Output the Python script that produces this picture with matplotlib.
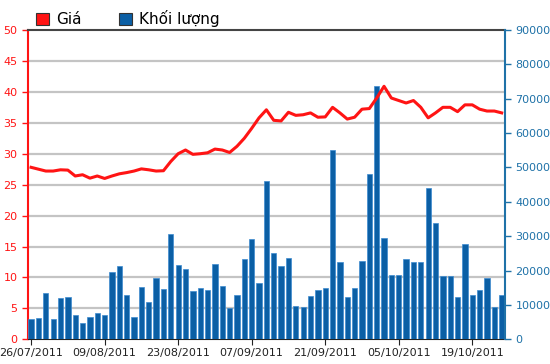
import matplotlib
matplotlib.use('Agg')
import matplotlib.pyplot as plt
from matplotlib.patches import Rectangle
import numpy as np

# Du lieu (doc tu bieu do)
nhan_ngay = ['26/07/2011', '09/08/2011', '23/08/2011', '07/09/2011',
             '21/09/2011', '05/10/2011', '19/10/2011']
vi_tri_nhan = [0, 10, 20, 30, 40, 50, 60]

gia = [27.8, 27.5, 27.2, 27.2, 27.4, 27.35, 26.4, 26.6, 26.05, 26.4,
       26.0, 26.4, 26.75, 26.95, 27.2, 27.55, 27.4, 27.2, 27.25, 28.75,
       30.0, 30.6, 29.9, 30.0, 30.15, 30.75, 30.6, 30.2, 31.2, 32.5,
       34.1, 35.8, 37.1, 35.4, 35.3, 36.7, 36.2, 36.3, 36.6, 35.9,
       35.95, 37.5, 36.6, 35.6, 35.9, 37.2, 37.3, 39.0, 40.9, 39.0,
       38.6, 38.2, 38.6, 37.5, 35.8, 36.6, 37.5, 37.5, 36.8, 37.9,
       37.9, 37.2, 36.9, 36.9, 36.6]

khoi_luong = [5800, 6200, 13500, 5800, 12000, 12400, 7000, 4700, 6600, 7700,
              7000, 19500, 21200, 13000, 6600, 15200, 10900, 17800, 14500, 30600,
              21700, 20600, 14100, 14800, 14400, 22000, 15400, 9100, 13000, 23400,
              29100, 16300, 46000, 25200, 21200, 23800, 9700, 9400, 12600, 14400,
              14800, 55000, 22400, 12400, 14800, 22800, 48100, 73800, 29500, 18700,
              18700, 23400, 22400, 22400, 43900, 33800, 18300, 18300, 12400, 27700,
              13000, 14200, 17700, 9400, 13000]

mau_gia = '#ff1414'
mau_kl = '#0b5fa5'
mau_truc_kl = '#1f72a8'

x = np.arange(len(gia))

fig = plt.figure(figsize=(5.5, 3.64), dpi=100)
ax = fig.add_axes([28 / 550, (364 - 339.3) / 364, 477 / 550, 309.3 / 364])
ax.set_xlim(-0.42, 64.45)
ax.set_ylim(0, 50)
ax.set_yticks(np.arange(0, 51, 5))
for v in np.arange(5, 50, 5):
    ax.axhline(v, color='#c4c4c4', lw=1.6, zorder=0)
ax.tick_params(axis='y', colors=mau_gia, labelsize=8, length=4, width=1)
ax.spines['left'].set_color(mau_gia)
ax.spines['left'].set_linewidth(1.5)
ax.spines['top'].set_color('#444444')
ax.spines['top'].set_linewidth(1.5)
ax.spines['bottom'].set_color('#222222')
ax.spines['right'].set_visible(False)
ax.set_xticks(vi_tri_nhan)
ax.set_xticklabels(nhan_ngay)
ax.tick_params(axis='x', colors='#222222', labelsize=8, length=4, pad=2)

# cot khoi luong
axv = ax.twinx()
axv.bar(x, khoi_luong, width=0.72, color=mau_kl, edgecolor='#3d8bd0', linewidth=0.5)
axv.set_ylim(0, 90000)
axv.set_yticks(np.arange(0, 90001, 10000))
axv.tick_params(axis='y', colors=mau_truc_kl, labelsize=8, length=4, width=1)
axv.spines['right'].set_color(mau_truc_kl)
axv.spines['right'].set_linewidth(1.5)
for s in ['left', 'top', 'bottom']:
    axv.spines[s].set_visible(False)

# duong gia
axp = ax.twinx()
axp.plot(x, gia, color=mau_gia, lw=2.2, solid_joinstyle='round')
axp.set_ylim(0, 50)
axp.axis('off')

# chu thich
tay_cam = [Rectangle((0, 0), 1, 1, facecolor=mau_gia, edgecolor='#333333', lw=0.8),
           Rectangle((0, 0), 1, 1, facecolor=mau_kl, edgecolor='#333333', lw=0.8)]
fig.legend(tay_cam, ['Giá', 'Khối lượng'], loc='upper left',
           bbox_to_anchor=(22 / 550, 1.01), ncol=2, frameon=False, fontsize=11,
           handlelength=0.85, handleheight=0.85, handletextpad=0.5, columnspacing=2.4)

fig.savefig('out.png', dpi=100)
